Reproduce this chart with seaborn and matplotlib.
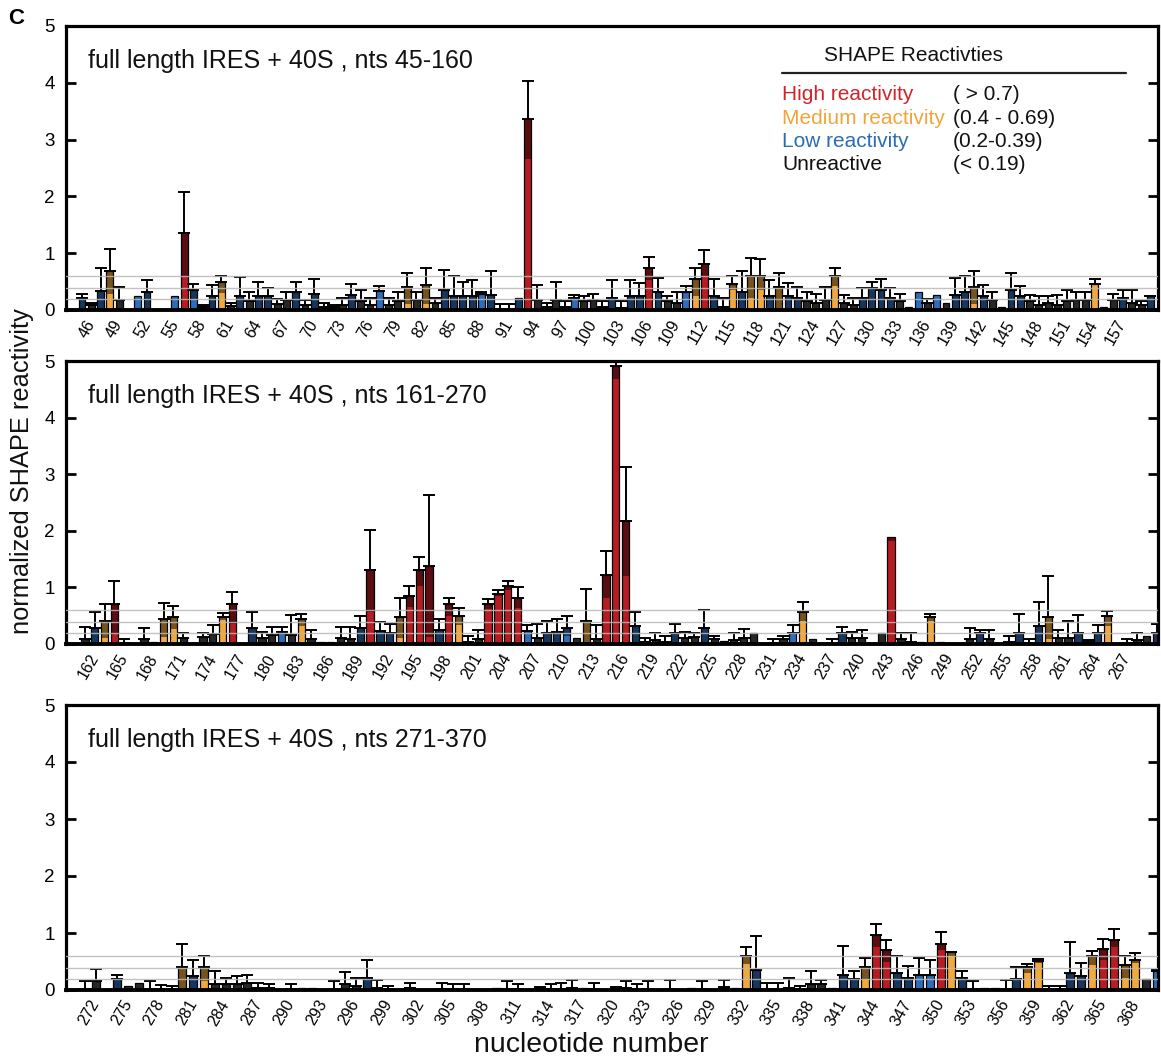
import numpy as np
import pandas as pd
import matplotlib
matplotlib.use("Agg")
import matplotlib.pyplot as plt
from matplotlib.lines import Line2D
import seaborn as sns

sns.set_theme(style="white")
plt.rcParams['font.family'] = ['Liberation Sans', 'DejaVu Sans']

# ---------------- data ----------------
# panel 1 : nts 45-160
p1_nts = list(range(45, 161))
p1_vals = [0.22, 0.09, 0.34, 0.68, 0.18, 0.00, 0.25, 0.31, 0.00, 0.00,
           0.25, 1.35, 0.36, 0.06, 0.25, 0.49, 0.07, 0.24, 0.15, 0.24,
           0.24, 0.11, 0.18, 0.31, 0.09, 0.28, 0.06, 0.06, 0.09, 0.26,
           0.16, 0.09, 0.34, 0.09, 0.15, 0.41, 0.18, 0.44, 0.12, 0.36,
           0.24, 0.24, 0.24, 0.29, 0.26, 0.02, 0.02, 0.22, 3.36, 0.18,
           0.06, 0.18, 0.06, 0.22, 0.15, 0.18, 0.06, 0.22, 0.03, 0.25,
           0.25, 0.74, 0.32, 0.16, 0.12, 0.32, 0.54, 0.81, 0.25, 0.06,
           0.45, 0.32, 0.59, 0.60, 0.24, 0.40, 0.25, 0.21, 0.15, 0.12,
           0.18, 0.60, 0.12, 0.09, 0.21, 0.38, 0.36, 0.21, 0.15, 0.06,
           0.32, 0.12, 0.26, 0.12, 0.26, 0.32, 0.40, 0.24, 0.18, 0.05,
           0.36, 0.24, 0.15, 0.09, 0.12, 0.09, 0.15, 0.18, 0.18, 0.45,
           0.06, 0.18, 0.21, 0.13, 0.09, 0.24]
p1_err_top = [0.29, 0.13, 0.74, 1.08, 0.41, 0, 0, 0.52, 0, 0,
              0, 2.07, 0.46, 0.09, 0.44, 0.60, 0.12, 0.58, 0.31, 0.49,
              0.38, 0.19, 0.32, 0.49, 0.18, 0.54, 0.13, 0.09, 0.22, 0.45,
              0.36, 0.22, 0.43, 0.22, 0.31, 0.65, 0.32, 0.74, 0.22, 0.71,
              0.60, 0.49, 0.52, 0.31, 0.68, 0.10, 0.10, 0, 4.03, 0.44,
              0.13, 0.49, 0.16, 0.26, 0.25, 0.28, 0.15, 0.52, 0.15, 0.52,
              0.48, 0.94, 0.57, 0.24, 0.32, 0.43, 0.74, 1.06, 0.54, 0.22,
              0.60, 0.68, 0.91, 0.89, 0.52, 0.65, 0.47, 0.41, 0.31, 0.28,
              0.41, 0.74, 0.26, 0.22, 0.38, 0.49, 0.55, 0.38, 0.28, 0,
              0, 0.19, 0, 0, 0.56, 0.60, 0.68, 0.44, 0.32, 0,
              0.65, 0.42, 0.26, 0.24, 0.24, 0.26, 0.36, 0.32, 0.32, 0.54,
              0, 0.29, 0.36, 0.36, 0.15, 0.25]
# height of the plain-coloured part of a bar (darker shading above it; default 0)
p1_shade_nts = [48, 51, 55, 56, 57, 60, 77, 80, 82, 88, 93, 98, 106, 110,
                111, 112, 115, 117, 118, 126, 135, 137, 141, 154]
p1_shade_lvl = [0.29, 0.25, 0.25, 0.60, 0.20, 0.30, 0.34, 0.10, 0.10, 0.29,
                2.66, 0.22, 0.53, 0.32, 0.24, 0.59, 0.35, 0.22, 0.36, 0.43,
                0.32, 0.26, 0.10, 0.45]
p1_ticks = list(range(46, 158, 3))

# panel 2 : nts 161-270
p2_nts = list(range(161, 271))
p2_vals = [0.09, 0.28, 0.40, 0.70, 0.02, 0.00, 0.09, 0.04, 0.44, 0.47,
           0.10, 0.00, 0.12, 0.17, 0.47, 0.70, 0.00, 0.28, 0.10, 0.16,
           0.22, 0.16, 0.44, 0.09, 0.04, 0.04, 0.11, 0.09, 0.28, 1.31,
           0.23, 0.20, 0.47, 0.84, 1.31, 1.38, 0.25, 0.70, 0.50, 0.04,
           0.09, 0.70, 0.89, 1.03, 0.82, 0.23, 0.11, 0.20, 0.22, 0.28,
           0.10, 0.40, 0.09, 1.22, 4.92, 2.17, 0.31, 0.04, 0.07, 0.04,
           0.20, 0.11, 0.13, 0.28, 0.09, 0.06, 0.07, 0.11, 0.19, 0.02,
           0.02, 0.09, 0.20, 0.57, 0.08, 0.02, 0.02, 0.20, 0.11, 0.10,
           0.00, 0.19, 1.89, 0.09, 0.04, 0.03, 0.47, 0.03, 0.01, 0.00,
           0.09, 0.20, 0.09, 0.00, 0.04, 0.20, 0.02, 0.31, 0.47, 0.11,
           0.11, 0.20, 0.04, 0.20, 0.49, 0.00, 0.02, 0.07, 0.15, 0.20]
p2_err_top = [0.30, 0.57, 0.70, 1.12, 0.09, 0, 0.28, 0, 0.73, 0.68,
              0.20, 0, 0.20, 0.34, 0.54, 0.92, 0, 0.57, 0.22, 0.30,
              0.30, 0.51, 0.53, 0.25, 0, 0, 0.30, 0.30, 0.50, 2.02,
              0.38, 0.36, 0.82, 1.03, 1.54, 2.63, 0.44, 0.82, 0.63, 0.14,
              0.24, 0.80, 0.96, 1.12, 1.00, 0.33, 0.35, 0.41, 0.44, 0.50,
              0, 0.98, 0.33, 1.64, 4.98, 3.12, 0.57, 0.11, 0.19, 0.15,
              0.35, 0.22, 0.19, 0.60, 0.14, 0, 0.19, 0.27, 0, 0,
              0.09, 0.15, 0.33, 0.75, 0, 0, 0.08, 0.30, 0.22, 0.25,
              0, 0, 1.89, 0.19, 0.19, 0, 0.53, 0, 0, 0,
              0.28, 0.25, 0.25, 0, 0.14, 0.53, 0.08, 0.75, 1.21, 0.25,
              0.41, 0.51, 0.07, 0.33, 0.59, 0, 0.09, 0.20, 0, 0.36]
p2_shade_nts = [163, 164, 169, 170, 175, 176, 181, 183, 190, 193, 194, 195,
                196, 198, 199, 202, 203, 204, 205, 206, 210, 214, 215, 216,
                233, 234, 243, 247, 259, 265]
p2_shade_lvl = [0.10, 0.20, 0.13, 0.27, 0.43, 0.35, 0.22, 0.31, 0.57, 0.10,
                0.66, 1.02, 0.13, 0.50, 0.34, 0.62, 0.85, 0.95, 0.64, 0.23,
                0.15, 0.81, 4.69, 1.20, 0.20, 0.40, 1.82, 0.40, 0.09, 0.31]
p2_ticks = list(range(162, 268, 3))

# panel 3 : nts 271-370
p3_nts = list(range(271, 371))
p3_vals = [0.01, 0.16, 0.00, 0.20, 0.07, 0.13, 0.01, 0.01, 0.01, 0.40,
           0.24, 0.40, 0.11, 0.11, 0.11, 0.13, 0.04, 0.04, 0.00, 0.01,
           0.04, 0.04, 0.00, 0.01, 0.11, 0.07, 0.21, 0.04, 0.01, 0.00,
           0.04, 0.00, 0.00, 0.01, 0.01, 0.01, 0.00, 0.00, 0.04, 0.02,
           0.01, 0.00, 0.01, 0.01, 0.02, 0.04, 0.04, 0.01, 0.00, 0.01,
           0.04, 0.01, 0.02, 0.00, 0.02, 0.00, 0.04, 0.02, 0.00, 0.06,
           0.04, 0.59, 0.35, 0.01, 0.02, 0.03, 0.01, 0.10, 0.10, 0.04,
           0.26, 0.20, 0.40, 0.97, 0.70, 0.29, 0.21, 0.26, 0.26, 0.81,
           0.66, 0.21, 0.01, 0.04, 0.04, 0.02, 0.20, 0.41, 0.51, 0.01,
           0.01, 0.29, 0.24, 0.59, 0.72, 0.88, 0.43, 0.53, 0.19, 0.34]
p3_err_top = [0.16, 0.37, 0, 0.26, 0, 0, 0.16, 0.09, 0.07, 0.81,
              0.53, 0.59, 0.34, 0.21, 0.24, 0.26, 0.13, 0.10, 0, 0.10,
              0, 0, 0, 0.16, 0.32, 0.21, 0.53, 0.18, 0.07, 0,
              0.13, 0, 0, 0.13, 0.10, 0.10, 0, 0, 0, 0.16,
              0.10, 0, 0.06, 0.10, 0.13, 0.18, 0, 0.13, 0, 0.06,
              0.16, 0.10, 0.16, 0, 0.18, 0, 0, 0.16, 0, 0.18,
              0, 0.75, 0.94, 0.13, 0.13, 0.21, 0.07, 0.34, 0.18, 0,
              0.78, 0.34, 0.56, 1.16, 0.88, 0.59, 0.42, 0.56, 0.53, 1.02,
              0.67, 0.34, 0.16, 0, 0, 0.18, 0.40, 0.45, 0.55, 0.07,
              0.07, 0.84, 0.48, 0.69, 0.89, 1.07, 0.59, 0.65, 0, 0.35]
p3_shade_nts = [282, 332, 343, 344, 345, 348, 349, 350, 351, 358, 359, 364,
                365, 366, 367, 368, 370]
p3_shade_lvl = [0.15, 0.46, 0.19, 0.76, 0.50, 0.26, 0.26, 0.70, 0.59, 0.30,
                0.47, 0.43, 0.53, 0.76, 0.21, 0.47, 0.34]
p3_ticks = list(range(272, 369, 3))

titles = ["full length IRES + 40S , nts 45-160",
          "full length IRES + 40S , nts 161-270",
          "full length IRES + 40S , nts 271-370"]

categories = ["Unreactive", "Low", "Medium", "High"]
cat_bins = [-np.inf, 0.195, 0.395, 0.695, np.inf]
palette = {"High": "#b81c23", "Medium": "#f2a93a", "Low": "#2d6dbb", "Unreactive": "#505050"}
legend_labels = ["High reactivity", "Medium reactivity", "Low reactivity", "Unreactive"]
legend_ranges = ["( > 0.7)", "(0.4 - 0.69)", "(0.2-0.39)", "(< 0.19)"]
legend_colors = ["#d2232a", "#f0a53a", "#2b6cb6", "#111111"]
guide_levels = [0.19, 0.38, 0.60]

# ---------------- figure ----------------
W, H = 1161, 1059
fig = plt.figure(figsize=(W / 100, H / 100), dpi=100)


def px(x, y):
    return x / W, 1 - y / H


axes_rects = [
    [66 / W, 1 - 310 / H, 1092 / W, 284 / H],
    [66 / W, 1 - 644 / H, 1092 / W, 283 / H],
    [66 / W, 1 - 990 / H, 1092 / W, 285 / H],
]
xlims = [(43.28, 160.82), (159.07, 270.15), (269.25, 370.08)]
panels = [
    (p1_nts, p1_vals, p1_err_top, p1_shade_nts, p1_shade_lvl, p1_ticks),
    (p2_nts, p2_vals, p2_err_top, p2_shade_nts, p2_shade_lvl, p2_ticks),
    (p3_nts, p3_vals, p3_err_top, p3_shade_nts, p3_shade_lvl, p3_ticks),
]

BW = 0.74
for i, (nts, vals, tops, snts, slvl, ticks) in enumerate(panels):
    ax = fig.add_axes(axes_rects[i])
    df = pd.DataFrame({"nt": nts, "val": vals, "top": tops})
    df["cat"] = pd.cut(df["val"], bins=cat_bins, labels=categories).astype(str)
    shade = dict(zip(snts, slvl))
    df["shade"] = [shade.get(n, 0.0) for n in df["nt"]]

    sns.barplot(data=df, x="nt", y="val", hue="cat", hue_order=categories,
                palette=palette, native_scale=True, dodge=False, width=BW,
                edgecolor="black", linewidth=0.9, errorbar=None, legend=False,
                saturation=1, ax=ax)

    d = df[df["val"] > df["shade"]]
    ax.bar(d["nt"], d["val"] - d["shade"], bottom=d["shade"], width=BW,
           color="black", alpha=0.5, linewidth=0, zorder=2)

    e = df[df["top"] > df["val"]]
    ax.errorbar(e["nt"], e["val"], yerr=[np.zeros(len(e)), e["top"] - e["val"]],
                fmt="none", ecolor="black", elinewidth=1.4, capsize=4.5,
                capthick=1.4, zorder=3)

    for y in guide_levels:
        ax.axhline(y, color="#b8b8b8", lw=1.0, alpha=0.85, zorder=4)

    ax.set_xlim(*xlims[i])
    ax.set_ylim(0, 5)
    ax.set_yticks([0, 1, 2, 3, 4, 5])
    ax.set_yticklabels(["0", "1", "2", "3", "4", "5"])
    ax.set_xticks(ticks)
    ax.set_xticklabels([str(t) for t in ticks])
    plt.setp(ax.get_xticklabels(), rotation=60, ha="right", va="center",
             rotation_mode="anchor")
    ax.tick_params(axis="y", direction="in", length=7, width=2, left=True,
                   right=True, labelsize=13.5, pad=8, colors="black")
    ax.tick_params(axis="x", length=0, labelsize=11.5, pad=8, colors="black")
    ax.set_xlabel("")
    ax.set_ylabel("")
    ax.grid(False)
    ax.set_facecolor("white")
    for s in ax.spines.values():
        s.set_visible(True)
        s.set_color("black")
        s.set_linewidth(2.3)
    ax.spines["bottom"].set_linewidth(2.8)

    ax.text(22 / 1092, 1 - 42 / 284, titles[i], transform=ax.transAxes,
            fontsize=18, ha="left", va="baseline", color="#111111")

# legend box inside panel 1
fig.text(*px(913, 61), "SHAPE Reactivties", fontsize=15, ha="center",
         va="baseline", color="#111111")
fig.add_artist(Line2D([782 / W, 1126 / W], [1 - 72.7 / H] * 2,
                      transform=fig.transFigure, color="#222222", lw=1.6))
row_y = [100, 123.5, 147, 170.5]
for lab, rng, col, yy in zip(legend_labels, legend_ranges, legend_colors, row_y):
    fig.text(*px(782, yy), lab, fontsize=15, ha="left", va="baseline", color=col)
    fig.text(*px(953, yy), rng, fontsize=15, ha="left", va="baseline", color="#111111")

fig.text(*px(22, 471), "normalized SHAPE reactivity", rotation=90, fontsize=18.3,
         ha="center", va="center", color="#111111")
fig.text(*px(591, 1045), "nucleotide number", fontsize=20.5, ha="center",
         va="center", color="#111111")
fig.text(*px(16, 18), "C", fontsize=16, fontweight="bold", ha="center",
         va="center", color="black")

fig.savefig("out.png", dpi=100, facecolor="white")
